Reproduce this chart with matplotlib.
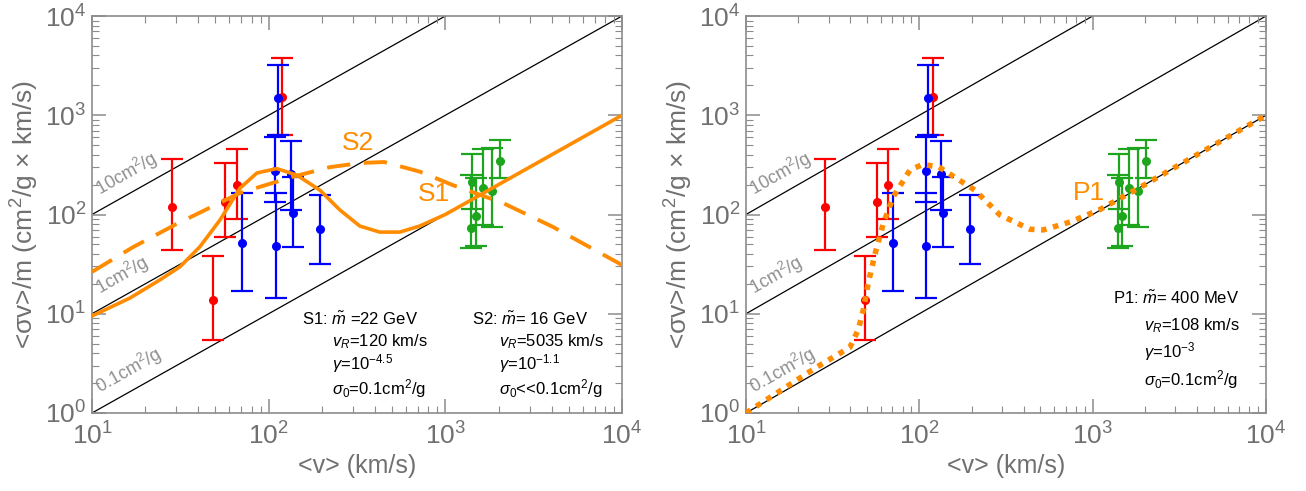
import numpy as np
import matplotlib
matplotlib.use("Agg")
import matplotlib.pyplot as plt

plt.rcParams['font.family'] = ['Liberation Sans', 'DejaVu Sans']
plt.rcParams['mathtext.fontset'] = 'custom'
plt.rcParams['mathtext.rm'] = 'Liberation Sans'
plt.rcParams['mathtext.it'] = 'Liberation Sans:italic'
plt.rcParams['mathtext.bf'] = 'Liberation Sans:bold'

# ---------------- data ----------------
# red data points: velocity, <sigma v>/m, lower, upper
red_v = [28.4, 48.4, 56.8, 65.9, 119.4]
red_y = [119, 13.8, 135, 200, 1538]
red_lo = [43.9, 5.44, 59.7, 89.4, 632]
red_hi = [362, 38.2, 328, 460, 3748]

blue_v = [70.9, 112.4, 108.7, 109.5, 133.7, 137, 195]
blue_y = [52, 1482, 276, 48.5, 256, 104, 71.9]
blue_lo = [16.9, 632, 134.6, 14.5, 111, 47.4, 31.5]
blue_hi = [166, 3208, 600, 166, 546, 240, 156]

green_v = [1403, 1483, 1419, 1626, 1828, 2037]
green_y = [73.6, 97.3, 214, 186, 174, 346]
green_lo = [45.6, 48.5, 114, 78, 75, 233]
green_hi = [250, 233, 407, 454, 468, 563]

# reference lines sigma/m in cm^2/g
ref_sigma = [10, 1, 0.1]
ref_labels = ['10cm$^2$/g', '1cm$^2$/g', '0.1cm$^2$/g']

# model curves
s1_v = [10, 16.4, 24.2, 31.5, 40.8, 53, 68.8, 85.8, 111, 144, 195, 253, 328, 425, 552, 716, 1000, 2000, 5000, 10000]
s1_y = [9.5, 14.4, 21.9, 29.8, 47.3, 88, 184, 262, 290, 250, 176, 111, 76.5, 66.5, 66.5, 76.5, 100, 200, 500, 1000]

s2_v = [10, 17.1, 30, 68.9, 137, 222, 330, 450, 718, 1100, 2110, 4040, 10000]
s2_y = [26.4, 47, 80, 165, 240, 300, 330, 338, 270, 198, 131, 75.4, 31]

p1_v = [10, 25.6, 39.8, 44.4, 47.5, 50.7, 55.5, 62, 70.8, 88.3, 105, 130, 209, 292, 436, 520, 741, 1100, 2000, 5000, 10000]
p1_y = [1.0, 2.9, 4.6, 6.9, 10.9, 20.3, 40, 81.5, 151, 281, 320, 300, 176, 98.7, 71, 70, 84, 112, 200, 500, 1000]

xlabel = '<v> (km/s)'
ylabel = '<σv>/m (cm$^2$/g × km/s)'

s1_text = [r'S1: $\tilde{m}$ =22 GeV', r'$v_R$=120 km/s', r'$\gamma$=10$^{-4.5}$', r'$\sigma_0$=0.1cm$^2$/g']
s2_text = [r'S2: $\tilde{m}$= 16 GeV', r'$v_R$=5035 km/s', r'$\gamma$=10$^{-1.1}$', r'$\sigma_0$<<0.1cm$^2$/g']
p1_text = [r'P1: $\tilde{m}$= 400 MeV', r'$v_R$=108 km/s', r'$\gamma$=10$^{-3}$', r'$\sigma_0$=0.1cm$^2$/g']

ORANGE = '#FF8C00'
GRAY = '#707070'
SPINE = '#8c8c8c'

W, H = 1306, 491
fig = plt.figure(figsize=(W / 100, H / 100), dpi=100)
axL = fig.add_axes([92 / W, 78 / H, 530 / W, 397 / H])
axR = fig.add_axes([746 / W, 78 / H, 520 / W, 397 / H])


def setup(ax):
    ax.set_xscale('log')
    ax.set_yscale('log')
    ax.set_xlim(10, 1e4)
    ax.set_ylim(1, 1e4)
    for s in ax.spines.values():
        s.set_color(SPINE)
        s.set_linewidth(1.2)
    ax.tick_params(which='both', direction='in', top=True, right=True, color=SPINE,
                   labelcolor=GRAY, labelsize=19)
    ax.tick_params(which='major', length=10, width=1.1, pad=4)
    ax.tick_params(axis='x', which='major', pad=7)
    ax.tick_params(which='minor', length=5, width=0.8)
    ax.set_xlabel(xlabel, fontsize=18, color=GRAY, labelpad=3)
    ax.set_ylabel(ylabel, fontsize=19, color=GRAY, labelpad=3)
    vv = np.array([10, 1e4])
    for s in ref_sigma:
        ax.plot(vv, s * vv, color='black', lw=0.9, zorder=1)
    for s, lab in zip(ref_sigma, ref_labels):
        # text sits just above its line near the left edge
        v0 = 11.5
        ax.text(v0, s * v0 * 1.2, lab, rotation=29.5, rotation_mode='anchor', ha='left', va='bottom',
                fontsize=13, color='#8f8f8f', zorder=2)
    ebk = dict(fmt='o', ms=5.5, capsize=8, elinewidth=1.6, capthick=1.6, zorder=3)
    for v, y, lo, hi, c in [(red_v, red_y, red_lo, red_hi, 'red'),
                            (blue_v, blue_y, blue_lo, blue_hi, 'blue'),
                            (green_v, green_y, green_lo, green_hi, '#1ea51e')]:
        v = np.array(v); y = np.array(y)
        err = [y - np.array(lo), np.array(hi) - y]
        ax.errorbar(v, y, yerr=err, color=c, ecolor=c, **ebk)


setup(axL)
setup(axR)

axL.plot(s1_v, s1_y, color=ORANGE, lw=2.6, zorder=4)
axL.plot(s2_v, s2_y, color=ORANGE, lw=2.8, ls=(0, (6, 3.5)), zorder=4)
axL.text(320, 520, 'S2', color=ORANGE, fontsize=19, ha='center', va='center')
axL.text(860, 160, 'S1', color=ORANGE, fontsize=19, ha='center', va='center')

axR.plot(p1_v, p1_y, color=ORANGE, lw=4, ls=(0, (1, 1.2)), zorder=4)
axR.text(950, 165, 'P1', color=ORANGE, fontsize=19, ha='center', va='center')


def block(ax, xpx, ypx, lines, indent):
    # positions given in axes-fraction
    for i, t in enumerate(lines):
        x = xpx + (0 if i == 0 else indent)
        ax.text(x, ypx[i], t, transform=ax.transAxes, fontsize=12, color='black', ha='left', va='center')


ys = [(413 - 319) / 397, (413 - 342) / 397, (413 - 364) / 397, (413 - 389) / 397]
block(axL, (302 - 92) / 530, ys, s1_text, 30 / 530)
block(axL, (472 - 92) / 530, ys, s2_text, 27 / 530)
ysR = [(413 - 298) / 397, (413 - 326) / 397, (413 - 352) / 397, (413 - 380) / 397]
block(axR, (1113 - 746) / 520, ysR, p1_text, 31 / 520)

fig.savefig('out.png', dpi=100)
